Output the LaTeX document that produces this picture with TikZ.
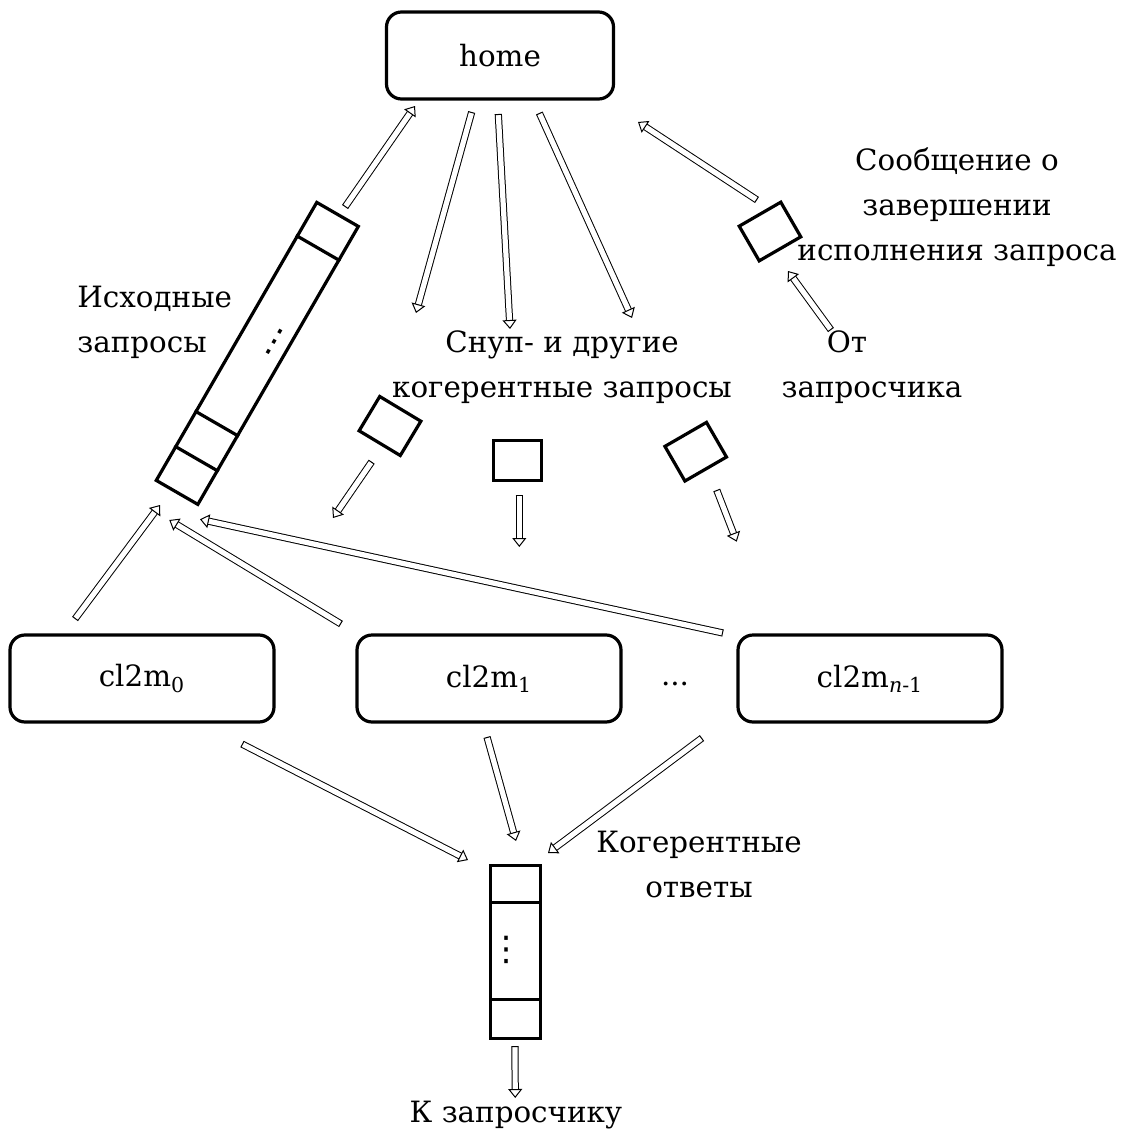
\documentclass[tikz,border=0pt]{standalone}
\usepackage{fontspec}
\setmainfont{DejaVu Serif}[Scale=0.815]
\newfontfamily\symfont{DejaVu Sans}
\usetikzlibrary{arrows.meta, positioning, calc}

\begin{document}
\begin{tikzpicture}[x=0.5pt, y=-0.5pt, font=\fontsize{18}{22.5}\selectfont,
        blok/.style={draw, line width=1.6pt, rounded corners=7.5pt, minimum width=132pt, minimum height=43.5pt, inner sep=0pt},
        yach/.style={draw, line width=1.6pt, minimum width=24pt, minimum height=20pt, inner sep=0pt},
        harrow/.style={double=white, double distance=2.6pt, line width=0.5pt,
            {Bar[width=3.6pt, line width=0.5pt]}-{Triangle[open, length=4.5pt, width=7pt, line width=0.5pt]}},
        txt/.style={inner sep=0pt, align=center},
        vdot/.style={inner sep=0pt, font=\symfont\fontsize{17}{17}\selectfont}]
    \useasboundingbox (0,0) rectangle (1123,1139);
    % blocks
    \node[blok, minimum width=113.5pt] (home) at (500,55.5) {home};
    \node[blok] (c0) at (142,678.5) {cl2m\textsubscript{0}};
    \node[blok] (c1) at (489,678.5) {cl2m\textsubscript{1}};
    \node[blok] (cn) at (870,678.5) {cl2m\textsubscript{\textit{n}-1}};
    \node[txt] (dots) at (675,684) {...};
    % queue of initial requests
    \node[draw, line width=1.6pt, minimum width=160.5pt, minimum height=24pt, inner sep=0pt, rotate=60] (qin) at (257.3,353.4) {};
    \foreach \f in {0.125,0.25,0.875}
        \draw[line width=1.6pt] ($(qin.north west)!\f!(qin.north east)$) -- ($(qin.south west)!\f!(qin.south east)$);
    \node[vdot, rotate=-30] (qindots) at (275,342) {⋮};
    % queue of coherent responses
    \node[draw, line width=1.6pt, minimum width=25pt, minimum height=86.3pt, inner sep=0pt] (qout) at (515.7,952) {};
    \draw[line width=1.6pt] ($(qout.north west)+(0,38.6)$) -- ($(qout.north east)+(0,38.6)$);
    \draw[line width=1.6pt] ($(qout.south west)+(0,-40.6)$) -- ($(qout.south east)+(0,-40.6)$);
    \node[vdot] (qoutdots) at (506,950) {⋮};
    % single messages
    \node[yach, rotate=-31] (s1) at (390,426) {};
    \node[yach] (s2) at (517.5,460.7) {};
    \node[yach, rotate=30] (s3) at (695.7,451.7) {};
    \node[yach, rotate=30] (s4) at (770,231.5) {};
    % labels
    \node[txt, anchor=west, align=left] (lin) at (77,322) {Исходные\\запросы};
    \node[txt] (lsnoop) at (562,367) {Снуп- и другие\\когерентные запросы};
    \node[txt] (ldone) at (957,207) {Сообщение о\\завершении\\исполнения запроса};
    \node[txt] (lfrom) at (872,367) {От\hspace*{1.7em}\\запросчика};
    \node[txt] (lresp) at (699,865) {Когерентные\\ответы};
    \node[txt] (lto) at (516,1115) {К запросчику};
    % arrow ends
    \coordinate (a1t) at (345,207);   \coordinate (a1h) at (415,106);
    \coordinate (a2t) at (471.7,112); \coordinate (a2h) at (416,313);
    \coordinate (a3t) at (498.3,114); \coordinate (a3h) at (510,329);
    \coordinate (a4t) at (539.3,113); \coordinate (a4h) at (632,318);
    \coordinate (a5t) at (757,200);   \coordinate (a5h) at (638,122);
    \coordinate (a6t) at (831,330);   \coordinate (a6h) at (788,271);
    \coordinate (a7t) at (371.7,461.7); \coordinate (a7h) at (333,518);
    \coordinate (a8t) at (519.3,495); \coordinate (a8h) at (519.3,547);
    \coordinate (a9t) at (716.7,490); \coordinate (a9h) at (736.7,541.7);
    \coordinate (a10t) at (75,619);   \coordinate (a10h) at (160,505);
    \coordinate (a11t) at (341,624);  \coordinate (a11h) at (169.3,520);
    \coordinate (a12t) at (723,633);  \coordinate (a12h) at (200,519.3);
    \coordinate (a13t) at (242,744);  \coordinate (a13h) at (468,860);
    \coordinate (a14t) at (487,737);  \coordinate (a14h) at (516,841);
    \coordinate (a15t) at (702,738);  \coordinate (a15h) at (548,853);
    \coordinate (a16t) at (515,1046); \coordinate (a16h) at (515.2,1098);
    \foreach \i in {1,...,16}
        \draw[harrow] (a\i t) -- (a\i h);
\end{tikzpicture}
\end{document}
